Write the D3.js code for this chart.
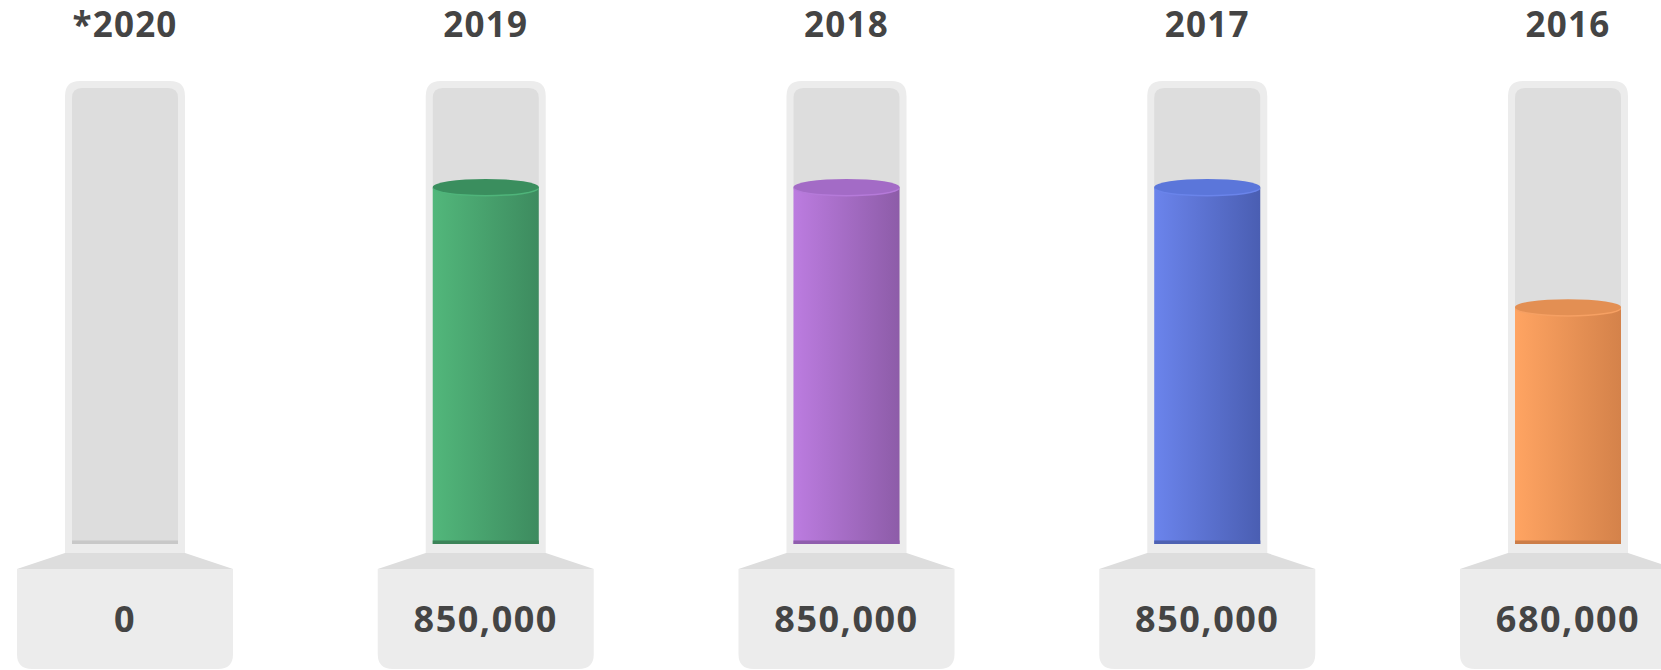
<!DOCTYPE html>
<html>
<head>
<meta charset="utf-8">
<script src="https://cdn.jsdelivr.net/npm/d3@7"></script>
<style>
  html, body { margin: 0; padding: 0; background: #ffffff; overflow: hidden; }
  svg { display: block; }
  text { font-family: "Open Sans", "Lato", sans-serif; font-weight: 700; fill: #444444; }
</style>
</head>
<body>
<svg id="chart" width="1661" height="670"></svg>
<script>
// ---- data ----
const categories = ["*2020", "2019", "2018", "2017", "2016"];
const values = [0, 850000, 850000, 850000, 680000];
const colorLeft  = ["#cfcfcf", "#52b77b", "#bc7ce0", "#6b84ec", "#ffa462"];
const colorRight = ["#c4c4c4", "#3d8b5f", "#8d5ca8", "#4a5eb2", "#d4824a"];
const colorTop   = ["#c8c8c8", "#3a8e5e", "#a36bc6", "#5b76da", "#e38f53"];
const colorRim   = ["#d0d0d0", "#4fb47a", "#b57ad9", "#6a84ea", "#f6a063"];
const colorBase  = ["#c8c8c8", "#3b8358", "#8f5dad", "#4d61b2", "#cc7d48"];
const scaleMin = 345000;
const scaleMax = 990000;

// ---- layout ----
const svg = d3.select("#chart");
const x = d3.scalePoint().domain(categories).range([125, 1568]);
const tubeTop = 81, tubeBottom = 553, innerTop = 88, innerBottom = 544;
const y = d3.scaleLinear().domain([scaleMin, scaleMax]).range([innerBottom, innerTop]).clamp(true);
const outerW = 120, innerW = 106, baseW = 216, trapBottom = 569, baseBottom = 669;

const defs = svg.append("defs");
categories.forEach((c, i) => {
  const g = defs.append("linearGradient").attr("id", "grad" + i)
    .attr("x1", "0%").attr("x2", "100%").attr("y1", "0%").attr("y2", "0%");
  g.append("stop").attr("offset", "0%").attr("stop-color", colorLeft[i]);
  g.append("stop").attr("offset", "100%").attr("stop-color", colorRight[i]);
});

function topRounded(x0, y0, w, h, r) {
  return `M${x0},${y0 + h} L${x0},${y0 + r} Q${x0},${y0} ${x0 + r},${y0} L${x0 + w - r},${y0} Q${x0 + w},${y0} ${x0 + w},${y0 + r} L${x0 + w},${y0 + h} Z`;
}
function bottomRounded(x0, y0, w, h, r) {
  return `M${x0},${y0} L${x0 + w},${y0} L${x0 + w},${y0 + h - r} Q${x0 + w},${y0 + h} ${x0 + w - r},${y0 + h} L${x0 + r},${y0 + h} Q${x0},${y0 + h} ${x0},${y0 + h - r} Z`;
}

const cols = svg.selectAll("g.col").data(categories).join("g").attr("class", "col")
  .attr("transform", d => `translate(${x(d)},0)`);

// title
cols.append("text").attr("x", 0).attr("y", 37).attr("text-anchor", "middle")
  .attr("font-size", 35).attr("letter-spacing", 1.2).text(d => d);

// outer tube
cols.append("path").attr("d", topRounded(-outerW / 2, tubeTop, outerW, tubeBottom - tubeTop, 15)).attr("fill", "#ececec");
// inner tube
cols.append("path").attr("d", topRounded(-innerW / 2, innerTop, innerW, innerBottom - innerTop, 10)).attr("fill", "#dddddd");

// trapezoid
cols.append("path")
  .attr("d", `M${-outerW / 2},${tubeBottom} L${outerW / 2},${tubeBottom} L${baseW / 2},${trapBottom} L${-baseW / 2},${trapBottom} Z`)
  .attr("fill", "#dddddd");
// base box
cols.append("path").attr("d", bottomRounded(-baseW / 2, trapBottom, baseW, baseBottom - trapBottom, 15)).attr("fill", "#ececec");

// liquid
cols.each(function (d, i) {
  const g = d3.select(this);
  const v = values[i];
  const yt = y(v);
  if (v > scaleMin) {
    g.append("rect").attr("x", -innerW / 2).attr("y", yt).attr("width", innerW)
      .attr("height", innerBottom - yt).attr("fill", `url(#grad${i})`);
    g.append("ellipse").attr("cx", 0).attr("cy", yt + 1.5).attr("rx", innerW / 2).attr("ry", 8)
      .attr("fill", colorRim[i]);
    g.append("ellipse").attr("cx", 0).attr("cy", yt).attr("rx", innerW / 2).attr("ry", 8)
      .attr("fill", colorTop[i]);
  }
  g.append("rect").attr("x", -innerW / 2).attr("y", innerBottom - 3.5).attr("width", innerW)
    .attr("height", 3.5).attr("fill", colorBase[i]);
});

// value label
const fmt = d3.format(",");
cols.append("text").attr("x", 0).attr("y", 632).attr("text-anchor", "middle")
  .attr("font-size", 36).attr("letter-spacing", 1.5).text((d, i) => fmt(values[i]));
</script>
</body>
</html>
